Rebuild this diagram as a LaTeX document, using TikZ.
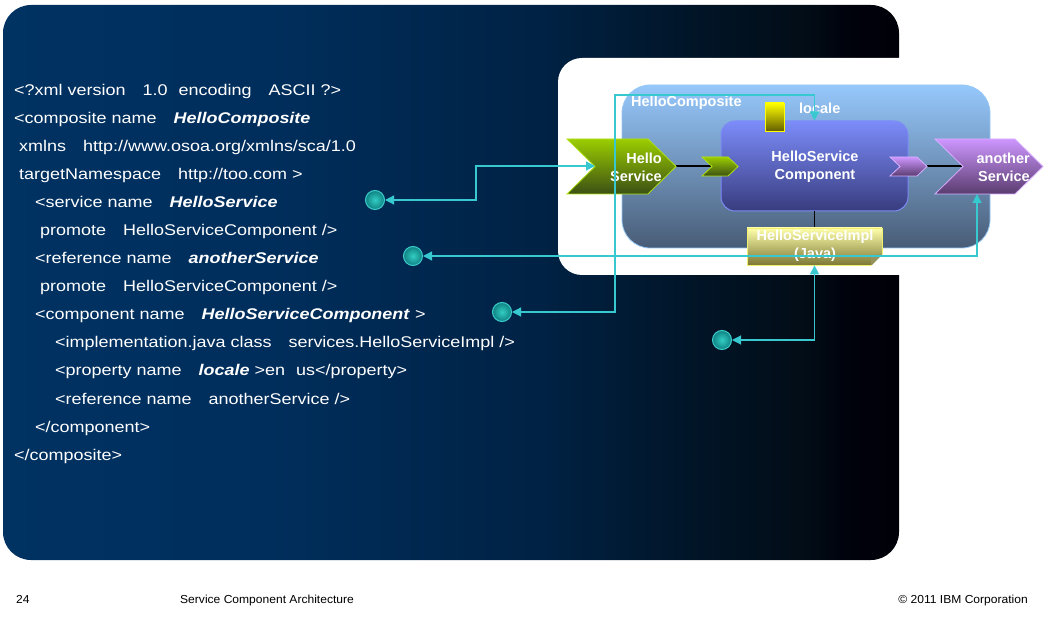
\documentclass[tikz,border=0pt]{standalone}
\usepackage{fontspec}
\setmainfont{Liberation Sans}
\newfontfamily\codefont[FakeStretch=1.16]{Liberation Sans}
\newfontfamily\footfont[FakeStretch=1.04]{Liberation Sans}
\usetikzlibrary{arrows.meta,calc}

% slide panel colours
\definecolor{pA}{RGB}{0,50,98}
\definecolor{pB}{RGB}{0,46,92}
\definecolor{pC}{RGB}{0,34,68}
\definecolor{pD}{RGB}{1,20,38}
\definecolor{pE}{RGB}{2,12,22}
\definecolor{pF}{RGB}{0,2,12}
\definecolor{pG}{RGB}{0,0,8}
\pgfdeclarehorizontalshading{panelgrad}{100bp}{color(0bp)=(pA); color(25bp)=(pA);
  color(40bp)=(pB); color(55bp)=(pC); color(64bp)=(pD); color(70bp)=(pE);
  color(72bp)=(pF); color(75bp)=(pG); color(100bp)=(pG)}

% diagram colours
\definecolor{compTop}{RGB}{150,200,252}
\definecolor{compBot}{RGB}{72,92,118}
\definecolor{compLine}{RGB}{150,200,245}
\definecolor{cmpTop}{RGB}{124,140,250}
\definecolor{cmpBot}{RGB}{56,60,126}
\definecolor{cmpLine}{RGB}{125,140,245}
\definecolor{grnTop}{RGB}{155,205,0}
\definecolor{grnBot}{RGB}{60,80,20}
\definecolor{grnLine}{RGB}{175,225,20}
\definecolor{purTop}{RGB}{205,150,255}
\definecolor{purBot}{RGB}{90,60,110}
\definecolor{purLine}{RGB}{215,175,255}
\definecolor{yelTop}{RGB}{255,255,0}
\definecolor{yelBot}{RGB}{100,95,0}
\definecolor{implTop}{RGB}{255,255,170}
\definecolor{implBot}{RGB}{125,120,55}
\definecolor{implLine}{RGB}{240,240,110}
\definecolor{link}{RGB}{55,200,208}
\definecolor{dotIn}{RGB}{50,205,195}
\definecolor{dotOut}{RGB}{15,130,130}
\definecolor{dotLine}{RGB}{60,205,205}

% chevron: x1 y1 x2 y2 depth style
\newcommand\chevron[6]{%
  \path[#6] (#1,#2) -- ({#3-#5},#2) -- (#3,{(#2+#4)/2}) -- ({#3-#5},#4)
    -- (#1,#4) -- ({#1+#5},{(#2+#4)/2}) -- cycle;}

\begin{document}
\begin{tikzpicture}[x=1pt,y=-1pt,
  codeline/.style={anchor=base west, inner sep=0pt, text=white,
    font=\codefont\fontsize{15.5}{18}\selectfont},
  lbl/.style={text=white, inner sep=0pt, align=center,
    font=\bfseries\fontsize{14.5}{18}\selectfont},
  foot/.style={anchor=base west, inner sep=0pt, text=black,
    font=\footfont\fontsize{11.6}{14}\selectfont},
  linkboth/.style={draw=link, line width=1.2pt,
    arrows={Triangle[length=9pt,width=9pt]-Triangle[length=9pt,width=9pt]}},
  wire/.style={draw=black, line width=1.2pt},
  dot/.style={circle, minimum size=19pt, inner sep=0pt, draw=dotLine,
    line width=1pt, inner color=dotIn, outer color=dotOut},
]
\useasboundingbox (0,0) rectangle (1050,620);
\fill[white] (0,0) rectangle (1050,620);

% dark slide panel and white diagram area
\path[shading=panelgrad, rounded corners=28pt] (3,5) rectangle (899,560);
\fill[white, rounded corners=24pt] (558,58) rectangle (960,275);

% composite
\node[draw=compLine, line width=0.8pt, rounded corners=28pt,
  top color=compTop, bottom color=compBot,
  minimum width=368pt, minimum height=163pt, inner sep=0pt] (composite) at (806,166.5) {};
\node[lbl, anchor=west] (compname) at (631,103) {HelloComposite};

% internal wires
\coordinate (hsTip) at (676,166);
\coordinate (gNotch) at (712,166);
\coordinate (pTip) at (927,166);
\coordinate (asNotch) at (963,166);
\path[wire] (hsTip) -- (gNotch);
\path[wire] (pTip) -- (asNotch);

% component
\node[draw=cmpLine, line width=1pt, rounded corners=14pt,
  top color=cmpTop, bottom color=cmpBot,
  minimum width=187pt, minimum height=90pt, inner sep=0pt] (comp) at (814.5,166) {};
\node[lbl] (compname2) at (815,167) {HelloService\\Component};

% component service and reference
\chevron{702}{157}{738}{176}{10}{draw=grnLine, line width=0.8pt, top color=grnTop, bottom color=grnBot}
\chevron{890}{157}{927}{176}{10}{draw=purLine, line width=0.8pt, top color=purTop, bottom color=purBot}

% composite service and reference
\chevron{567}{139}{676}{194}{28}{draw=grnLine, line width=0.8pt, top color=grnTop, bottom color=grnBot}
\chevron{935}{139}{1043}{194}{28}{draw=purLine, line width=0.8pt, top color=purTop, bottom color=purBot}
\node[lbl, anchor=east, align=right] (hs) at (662,167) {Hello\\Service};
\node[lbl, anchor=east, align=right] (as) at (1030,167) {another\\Service};
\coordinate (hsNotch) at (595,166);
\coordinate (asBottom) at (977,194);

% property
\node[draw=yelTop, line width=0.8pt, top color=yelTop, bottom color=yelBot,
  minimum width=19pt, minimum height=28pt, inner sep=0pt] (prop) at (774.5,117) {};
\node[lbl, anchor=west] (propname) at (799,108) {locale};

% implementation
\path[wire] (comp.south) -- (814.5,228);
\node[draw=implLine, line width=0.8pt, top color=implTop, bottom color=implBot,
  minimum width=135pt, minimum height=37pt, inner sep=0pt] (impl) at (814.5,246.5) {};
\fill[white] (871,266) -- (883,266) -- (883,254) -- cycle;
\fill[implBot!80!white] (871,265) -- (882,254) -- (871,256) -- cycle;
\node[lbl] (implname) at (815,246) {HelloServiceImpl\\(Java)};

% XML listing
\newcommand\wgap{\hspace*{17pt}}
\newcommand\ngap{\hspace*{11pt}}
\node[codeline] (x1) at (14,96) {<?xml version\wgap 1.0\ngap encoding\wgap ASCII ?>};
\node[codeline] (x2) at (14,124) {<composite name\wgap\textbf{\textit{HelloComposite}}};
\node[codeline] (x3) at (19,152) {xmlns\wgap http://www.osoa.org/xmlns/sca/1.0};
\node[codeline] (x4) at (19,180) {targetNamespace\wgap http://too.com >};
\node[codeline] (x5) at (35,208) {<service name\wgap\textbf{\textit{HelloService}}};
\node[codeline] (x6) at (40,236) {promote\wgap HelloServiceComponent />};
\node[codeline] (x7) at (35,264) {<reference name\wgap\textbf{\textit{anotherService}}};
\node[codeline] (x8) at (40,292) {promote\wgap HelloServiceComponent />};
\node[codeline] (x9) at (35,320) {<component name\wgap\textbf{\textit{HelloServiceComponent}} >};
\node[codeline] (x10) at (55,348) {<implementation.java class\wgap services.HelloServiceImpl />};
\node[codeline] (x11) at (55,376) {<property name\wgap\textbf{\textit{locale}} >en\ngap us</property>};
\node[codeline] (x12) at (55,404) {<reference name\wgap anotherService />};
\node[codeline] (x13) at (35,432) {</component>};
\node[codeline] (x14) at (14,460) {</composite>};

% markers and links
\node[dot] (d1) at (375,200) {};
\node[dot] (d2) at (413,256) {};
\node[dot] (d3) at (502,312) {};
\node[dot] (d4) at (722,340) {};
\coordinate (j1) at (476,200);
\coordinate (j3) at (615,95);
\path[linkboth] (hsNotch) -| (j1) -- (d1);
\path[linkboth] (asBottom) |- (d2);
\path[linkboth] (comp.north) |- (j3) |- (d3);
\path[linkboth] (impl.south) |- (d4);

% footer
\node[foot] (page) at (16,603) {24};
\node[foot] (title) at (180,603) {Service Component Architecture};
\node[foot, anchor=base east] (copy) at (1028,603) {© 2011 IBM Corporation};
\end{tikzpicture}
\end{document}
